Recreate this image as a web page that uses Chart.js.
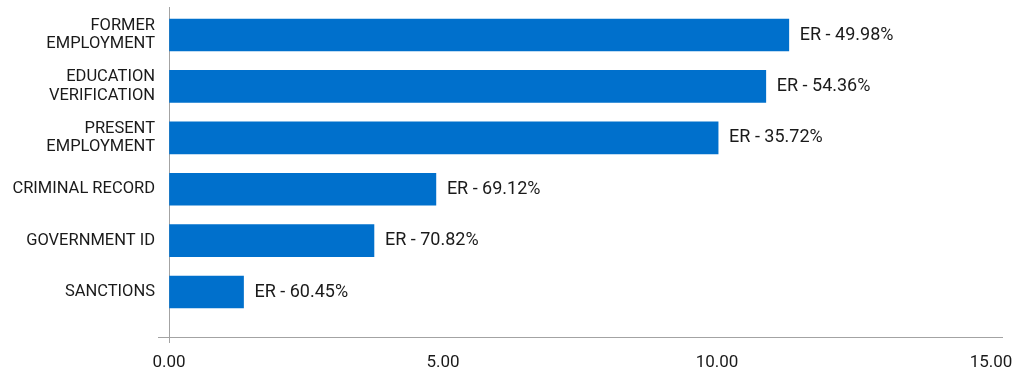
<!DOCTYPE html>
<html>
<head>
<meta charset="utf-8">
<script src="https://cdn.jsdelivr.net/npm/chart.js@4.4.1/dist/chart.umd.min.js"></script>
<style>
  html, body { margin: 0; padding: 0; background: #fff; }
  #wrap { width: 1031px; height: 373px; }
</style>
</head>
<body>
<div id="wrap"><canvas id="erChart"></canvas></div>
<script>
// 카테고리 (줄바꿈 포함)
var categories = [
  ['FORMER', 'EMPLOYMENT'],
  ['EDUCATION', 'VERIFICATION'],
  ['PRESENT', 'EMPLOYMENT'],
  'CRIMINAL RECORD',
  'GOVERNMENT ID',
  'SANCTIONS'
];
// 막대 값
var values = [11.31, 10.89, 10.02, 4.87, 3.74, 1.36];
// 막대 옆 라벨
var erLabels = ['ER - 49.98%', 'ER - 54.36%', 'ER - 35.72%', 'ER - 69.12%', 'ER - 70.82%', 'ER - 60.45%'];
// x축 눈금
var xTicks = [0, 5, 10, 15];

var axisColor = '#a3a3a3';
var textColor = '#1a1a1a';
var fontFamily = 'Roboto, "Noto Sans", sans-serif';

var yMin = -0.545, yMax = 5.875;

// 막대 오른쪽에 ER 라벨 그리기
var erLabelPlugin = {
  id: 'erLabels',
  afterDatasetsDraw: function(chart){
    var ctx = chart.ctx;
    var meta = chart.getDatasetMeta(0);
    ctx.save();
    ctx.font = '18px ' + fontFamily;
    ctx.fillStyle = textColor;
    ctx.textAlign = 'left';
    ctx.textBaseline = 'middle';
    meta.data.forEach(function(bar, i){
      ctx.fillText(erLabels[i], bar.x + 11, bar.y);
    });
    ctx.restore();
  }
};

new Chart(document.getElementById('erChart'), {
  type: 'bar',
  data: {
    datasets: [{
      label: 'ER',
      data: values.map(function(v, i){ return {x: v, y: i}; }),
      backgroundColor: '#0070cc',
      borderWidth: 0,
      barThickness: 32
    }]
  },
  options: {
    indexAxis: 'y',
    responsive: true,
    maintainAspectRatio: false,
    animation: false,
    layout: { padding: { left: 0, top: 7, right: 29, bottom: 0 } },
    plugins: {
      legend: { display: false },
      tooltip: { enabled: false }
    },
    scales: {
      x: {
        type: 'linear',
        min: 0,
        max: 15.2,
        afterBuildTicks: function(scale){
          scale.ticks = xTicks.map(function(v){ return {value: v}; });
        },
        afterFit: function(scale){
          scale.height = 36;
          scale.paddingLeft = 0;
          scale.paddingRight = 0;
        },
        border: { display: true, color: axisColor, width: 1 },
        grid: {
          drawOnChartArea: false,
          drawTicks: true,
          tickLength: 6,
          color: function(c){ return c.tick && c.tick.value === 0 ? axisColor : 'rgba(0,0,0,0)'; }
        },
        ticks: {
          padding: 10,
          color: textColor,
          font: { family: fontFamily, size: 17 },
          maxRotation: 0,
          callback: function(v){ return Number(v).toFixed(2); }
        }
      },
      y: {
        type: 'linear',
        reverse: true,
        offset: false,
        min: yMin,
        max: yMax,
        afterBuildTicks: function(scale){
          var t = categories.map(function(c, i){ return {value: i}; });
          t.push({value: yMax});
          scale.ticks = t;
        },
        afterFit: function(scale){
          scale.width = 169;
          scale.paddingTop = 0;
          scale.paddingBottom = 0;
        },
        border: { display: true, color: axisColor, width: 1 },
        grid: {
          offset: false,
          drawOnChartArea: false,
          drawTicks: true,
          tickLength: 11,
          color: function(c){ return c.tick && c.tick.value === yMax ? axisColor : 'rgba(0,0,0,0)'; }
        },
        ticks: {
          padding: 3,
          color: textColor,
          font: { family: fontFamily, size: 16.5, lineHeight: 1.13 },
          callback: function(v){ return Number.isInteger(v) && categories[v] !== undefined ? categories[v] : ''; }
        }
      }
    }
  },
  plugins: [erLabelPlugin]
});
</script>
</body>
</html>
